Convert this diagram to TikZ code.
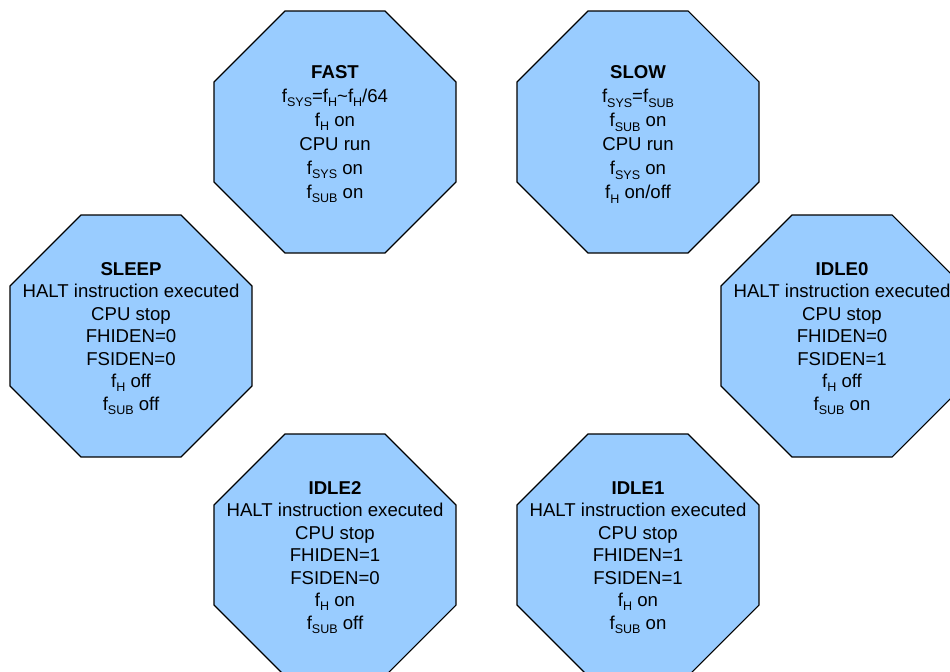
\documentclass[tikz,border=0pt]{standalone}
\usepackage{fontspec}
\setmainfont{Liberation Sans}
\usetikzlibrary{shapes.geometric}
\definecolor{octfill}{HTML}{99CCFF}
\newcommand\lowsub[1]{\raisebox{-0.22em}{\fontsize{12.5bp}{12.5bp}\selectfont #1}}
\tikzset{
  octstate/.style={regular polygon, regular polygon sides=8, minimum size=261.9bp,
    inner sep=0pt, outer sep=0pt, draw=black, line width=1.2bp, fill=octfill},
  octtext/.style={align=center, inner sep=0pt, text=black, yshift=-2.5bp,
    font=\fontsize{18.6bp}{22.5bp}\selectfont},
  octtextwide/.style={align=center, inner sep=0pt, text=black, yshift=-2.5bp,
    font=\fontsize{18.6bp}{24bp}\selectfont}
}
\begin{document}
\begin{tikzpicture}[x=1bp,y=-1bp]
\useasboundingbox (0,0) rectangle (950,672);
\node[octstate] (fast) at (335,132) {};
\node[octtextwide] (fastt) at (fast.center) {\textbf{FAST}\\f\lowsub{SYS}=f\lowsub{H}\textasciitilde f\lowsub{H}/64\\f\lowsub{H} on\\CPU run\\f\lowsub{SYS} on\\f\lowsub{SUB} on};
\node[octstate] (slow) at (638,132) {};
\node[octtextwide] (slowt) at (slow.center) {\textbf{SLOW}\\f\lowsub{SYS}=f\lowsub{SUB}\\f\lowsub{SUB} on\\CPU run\\f\lowsub{SYS} on\\f\lowsub{H} on/off};
\node[octstate] (sleep) at (131,336) {};
\node[octtext] (sleept) at (sleep.center) {\textbf{SLEEP}\\HALT instruction executed\\CPU stop\\FHIDEN=0\\FSIDEN=0\\f\lowsub{H} off\\f\lowsub{SUB} off};
\node[octstate] (idle0) at (842,336) {};
\node[octtext] (idle0t) at (idle0.center) {\textbf{IDLE0}\\HALT instruction executed\\CPU stop\\FHIDEN=0\\FSIDEN=1\\f\lowsub{H} off\\f\lowsub{SUB} on};
\node[octstate] (idle2) at (335,555) {};
\node[octtext] (idle2t) at (idle2.center) {\textbf{IDLE2}\\HALT instruction executed\\CPU stop\\FHIDEN=1\\FSIDEN=0\\f\lowsub{H} on\\f\lowsub{SUB} off};
\node[octstate] (idle1) at (638,555) {};
\node[octtext] (idle1t) at (idle1.center) {\textbf{IDLE1}\\HALT instruction executed\\CPU stop\\FHIDEN=1\\FSIDEN=1\\f\lowsub{H} on\\f\lowsub{SUB} on};
\end{tikzpicture}
\end{document}
